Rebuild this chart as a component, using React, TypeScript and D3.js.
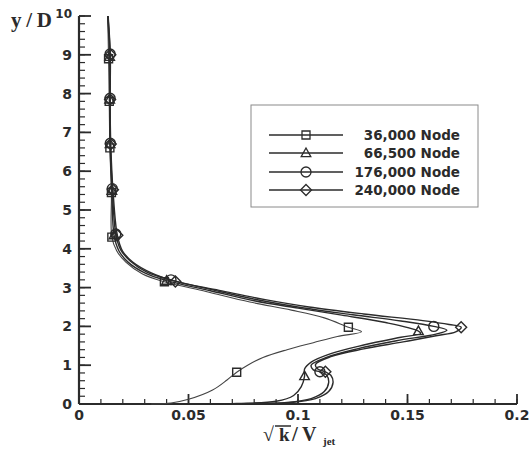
import React from "react";
import * as d3 from "d3";

type P = [number, number];

const seriesNames = ["36,000 Node", "66,500 Node", "176,000 Node", "240,000 Node"];
const markerKinds = ["square", "triangle", "circle", "diamond"];

const s36000: P[] = [
  [0.0131, 10], [0.0135, 8.9], [0.0138, 7.8], [0.0141, 6.6], [0.0148, 5.45], [0.015, 4.3],
  [0.0172, 3.95], [0.0215, 3.65], [0.029, 3.35], [0.039, 3.15], [0.058, 2.9], [0.078, 2.63],
  [0.097, 2.42], [0.112, 2.22], [0.123, 1.98], [0.129, 1.86], [0.118, 1.74], [0.107, 1.58],
  [0.095, 1.4], [0.084, 1.2], [0.077, 1.0], [0.072, 0.82], [0.0676, 0.62], [0.061, 0.36],
  [0.05, 0.12], [0.042, 0.025], [0.033, 0],
];
const s66500: P[] = [
  [0.0131, 10], [0.014, 8.95], [0.014, 7.85], [0.0142, 6.7], [0.015, 5.5], [0.016, 4.35],
  [0.0182, 3.95], [0.0225, 3.65], [0.03, 3.38], [0.04, 3.18], [0.06, 2.92], [0.08, 2.66],
  [0.1, 2.47], [0.12, 2.29], [0.14, 2.1], [0.155, 1.88], [0.156, 1.82], [0.147, 1.72],
  [0.13, 1.52], [0.115, 1.3], [0.106, 1.08], [0.103, 0.9], [0.103, 0.72], [0.1015, 0.45],
  [0.098, 0.22], [0.09, 0.07], [0.072, 0.015], [0.045, 0],
];
const s176000: P[] = [
  [0.0132, 10], [0.0142, 9.02], [0.0142, 7.88], [0.0143, 6.72], [0.0152, 5.55], [0.0168, 4.38],
  [0.019, 3.98], [0.0235, 3.68], [0.031, 3.4], [0.042, 3.2], [0.062, 2.93], [0.082, 2.68],
  [0.102, 2.48], [0.125, 2.3], [0.147, 2.14], [0.162, 2.0], [0.168, 1.9], [0.163, 1.8],
  [0.145, 1.63], [0.127, 1.42], [0.113, 1.2], [0.106, 1.0], [0.107, 0.88], [0.11, 0.83],
  [0.113, 0.75], [0.114, 0.55], [0.112, 0.32], [0.106, 0.14], [0.095, 0.04], [0.075, 0.01],
  [0.045, 0],
];
const s240000: P[] = [
  [0.0133, 10], [0.0143, 9.0], [0.0142, 7.85], [0.0145, 6.7], [0.0155, 5.52], [0.0175, 4.35],
  [0.0198, 3.95], [0.0245, 3.66], [0.033, 3.38], [0.044, 3.16], [0.064, 2.93], [0.085, 2.69],
  [0.105, 2.5], [0.13, 2.32], [0.157, 2.15], [0.169, 2.05], [0.1745, 1.98], [0.172, 1.86],
  [0.163, 1.76], [0.148, 1.6], [0.13, 1.42], [0.115, 1.22], [0.108, 1.02], [0.109, 0.9],
  [0.1125, 0.83], [0.115, 0.74], [0.116, 0.55], [0.114, 0.32], [0.108, 0.14], [0.097, 0.04],
  [0.077, 0.01], [0.045, 0],
];

const m36000: P[] = [[0.0135, 8.9], [0.0138, 7.8], [0.0141, 6.6], [0.0148, 5.45], [0.015, 4.3], [0.039, 3.15], [0.123, 1.98], [0.072, 0.82]];
const m66500: P[] = [[0.014, 8.95], [0.014, 7.85], [0.0142, 6.7], [0.015, 5.5], [0.016, 4.35], [0.04, 3.18], [0.155, 1.88], [0.103, 0.72]];
const m176000: P[] = [[0.0142, 9.02], [0.0142, 7.88], [0.0143, 6.72], [0.0152, 5.55], [0.0168, 4.38], [0.042, 3.2], [0.162, 2.0], [0.11, 0.83]];
const m240000: P[] = [[0.0143, 9.0], [0.0142, 7.85], [0.0145, 6.7], [0.0155, 5.52], [0.0175, 4.35], [0.044, 3.16], [0.1745, 1.98], [0.1125, 0.83]];

const curves = [s36000, s66500, s176000, s240000];
const markers = [m36000, m66500, m176000, m240000];

const xMajor = [0, 0.05, 0.1, 0.15, 0.2];
const xLabels = ["0", "0.05", "0.1", "0.15", "0.2"];
const yMajor = [0, 1, 2, 3, 4, 5, 6, 7, 8, 9, 10];

const W = 529;
const H = 449;
const x = d3.scaleLinear().domain([0, 0.2]).range([79, 517]);
const y = d3.scaleLinear().domain([0, 10]).range([404, 16]);

const INK = "#2b2b2b";

function markerPath(kind: string): string {
  switch (kind) {
    case "square":
      return "M-4,-4H4V4H-4Z";
    case "triangle":
      return "M0,-5L4.8,3.6H-4.8Z";
    case "circle":
      return "M5,0A5,5 0 1,1 -5,0A5,5 0 1,1 5,0Z";
    default:
      return "M0,-5.5L5.5,0L0,5.5L-5.5,0Z";
  }
}

export default function App() {
  const line = d3
    .line<P>()
    .x((d) => x(d[0]))
    .y((d) => y(d[1]))
    .curve(d3.curveCatmullRom.alpha(0.5));

  const xMinor = d3.range(0, 0.2001, 0.01);
  const yMinor = d3.range(0, 10.001, 0.2);

  const legX0 = 269;
  const legX1 = 343;
  const legRows = [135, 153, 172, 190];

  return (
    <svg
      width={W}
      height={H}
      style={{ position: "absolute", left: 0, top: 0, background: "#fff" }}
      fontFamily="'DejaVu Sans', sans-serif"
    >
      <rect x={0} y={0} width={W} height={H} fill="#fff" />
      {xMinor.map((v, i) => (
        <line key={"xm" + i} x1={x(v)} x2={x(v)} y1={y(0)} y2={y(0) - 5} stroke={INK} strokeWidth={1.2} />
      ))}
      {yMinor.map((v, i) => (
        <line key={"ym" + i} x1={x(0)} x2={x(0) + 6} y1={y(v)} y2={y(v)} stroke={INK} strokeWidth={1.2} />
      ))}
      {xMajor.map((v, i) => (
        <line key={"xM" + i} x1={x(v)} x2={x(v)} y1={y(0)} y2={y(0) - 10} stroke={INK} strokeWidth={1.8} />
      ))}
      {yMajor.map((v, i) => (
        <line key={"yM" + i} x1={x(0)} x2={x(0) + 12} y1={y(v)} y2={y(v)} stroke={INK} strokeWidth={1.8} />
      ))}
      <line x1={x(0)} x2={x(0.2)} y1={y(0)} y2={y(0)} stroke={INK} strokeWidth={2.2} />
      <line x1={x(0)} x2={x(0)} y1={y(0)} y2={y(10)} stroke={INK} strokeWidth={2.2} />

      {xMajor.map((v, i) => (
        <text key={"xl" + i} x={x(v)} y={420} textAnchor="middle" fontSize={14} fontWeight="bold" fill={INK}>
          {xLabels[i]}
        </text>
      ))}
      {yMajor.map((v, i) => (
        <text
          key={"yl" + i}
          x={72}
          y={y(v) + (v === 10 ? 2 : 5)}
          textAnchor="end"
          fontSize={v === 10 ? 12 : 14}
          fontWeight="bold"
          fill={INK}
        >
          {String(v)}
        </text>
      ))}

      <text x={11} y={27} fontFamily="'Liberation Serif', serif" fontSize={21} fontWeight="bold" fill={INK} textLength={41} lengthAdjust="spacing">
        y/D
      </text>
      <g fontFamily="'Liberation Serif', serif" fontWeight="bold" fill={INK}>
        <text x={263} y={441} fontSize={20}>√</text>
        <line x1={275} x2={291} y1={426} y2={426} stroke={INK} strokeWidth={1.5} />
        <text x={279} y={441} fontSize={19}>k</text>
        <text x={292} y={441} fontSize={21}>/</text>
        <text x={302} y={441} fontSize={20}>V</text>
        <text x={323} y={445} fontSize={11}>jet</text>
      </g>

      {curves.map((c, i) => (
        <path
          key={"c" + i}
          d={line(c) || ""}
          fill="none"
          stroke={i === 0 ? "#444" : INK}
          strokeWidth={i === 0 ? 1.1 : 1.4}
        />
      ))}
      {markers.map((ms, i) =>
        ms.map((m, j) => (
          <path
            key={"m" + i + "-" + j}
            d={markerPath(markerKinds[i])}
            transform={`translate(${x(m[0])},${y(m[1])})`}
            fill="none"
            stroke={INK}
            strokeWidth={1.4}
          />
        ))
      )}

      <rect x={251} y={105} width={227} height={102} fill="#fff" stroke="#8a8a8a" strokeWidth={1} />
      {seriesNames.map((name, i) => (
        <g key={"lg" + i}>
          <line x1={legX0} x2={legX1} y1={legRows[i]} y2={legRows[i]} stroke={INK} strokeWidth={1.3} />
          <path
            d={markerPath(markerKinds[i])}
            transform={`translate(${(legX0 + legX1) / 2},${legRows[i]})`}
            fill="none"
            stroke={INK}
            strokeWidth={1.3}
          />
          <text x={460} y={legRows[i] + 5} textAnchor="end" fontSize={13.5} fontWeight="bold" fill={INK}>
            {name}
          </text>
        </g>
      ))}
    </svg>
  );
}
